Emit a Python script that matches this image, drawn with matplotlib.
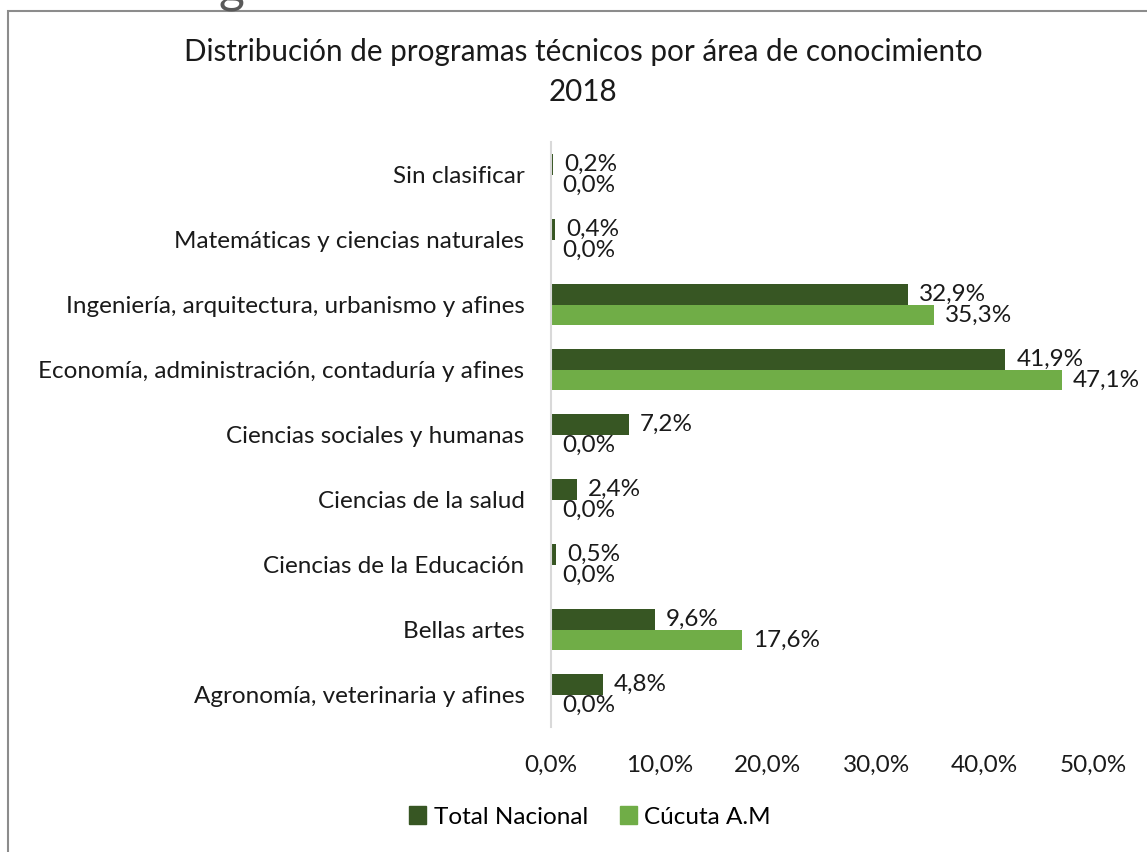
import numpy as np
import matplotlib.pyplot as plt
from matplotlib.patches import Rectangle, Patch

plt.rcParams['font.family'] = ['Lato', 'DejaVu Sans']

# categorias (de abajo hacia arriba)
categorias = ['Agronomía, veterinaria y afines',
              'Bellas artes',
              'Ciencias de la Educación',
              'Ciencias de la salud',
              'Ciencias sociales y humanas',
              'Economía, administración, contaduría y afines',
              'Ingeniería, arquitectura, urbanismo y afines',
              'Matemáticas y ciencias naturales',
              'Sin clasificar']

total_nacional = [4.8, 9.6, 0.5, 2.4, 7.2, 41.9, 32.9, 0.4, 0.2]
cucuta_am = [0.0, 17.6, 0.0, 0.0, 0.0, 47.1, 35.3, 0.0, 0.0]

series_nombres = ['Total Nacional', 'Cúcuta A.M']
ticks = [0, 10, 20, 30, 40, 50]

c_oscuro = '#375623'
c_claro = '#70ad47'
fs = 17.5

W, H = 1147, 852
fig = plt.figure(figsize=(W / 100, H / 100), dpi=100)

# marco del grafico
fig.patches.append(Rectangle((8 / W, -0.1), 1.2, 1.1 - 11 / H, transform=fig.transFigure,
                             fill=False, edgecolor='#8c8c8c', linewidth=1.5))
# resto de texto cortado arriba
fig.text(232 / W, 1.0 + 12 / H, 'g', fontsize=36, color='#595959', ha='center', va='center')

ax = fig.add_axes([551 / W, 1 - 727 / H, (1093 - 551) / W, (727 - 142) / H])

y = np.arange(len(categorias))
h = 0.32
ax.barh(y + h / 2, total_nacional, height=h, color=c_oscuro, label=series_nombres[0])
ax.barh(y - h / 2, cucuta_am, height=h, color=c_claro, label=series_nombres[1])

def fmt(v):
    return ('%.1f%%' % v).replace('.', ',')

for i in range(len(categorias)):
    ax.annotate(fmt(total_nacional[i]), (total_nacional[i], y[i] + h / 2),
                xytext=(8, 0), textcoords='offset points', va='center', ha='left',
                fontsize=fs, color='#1a1a1a')
    ax.annotate(fmt(cucuta_am[i]), (cucuta_am[i], y[i] - h / 2),
                xytext=(8, 0), textcoords='offset points', va='center', ha='left',
                fontsize=fs, color='#1a1a1a')

ax.set_xlim(0, 50)
ax.set_ylim(-0.5, len(categorias) - 0.5)
ax.set_yticks(y)
ax.set_yticklabels(categorias, fontsize=fs, color='#1a1a1a')
ax.set_xticks(ticks)
ax.set_xticklabels([fmt(t) for t in ticks], fontsize=fs, color='#1a1a1a')
ax.tick_params(axis='y', length=0, pad=19)
ax.tick_params(axis='x', length=0, pad=20)
for s in ['top', 'right', 'bottom']:
    ax.spines[s].set_visible(False)
ax.spines['left'].set_color('#d9d9d9')
ax.spines['left'].set_linewidth(1.5)

fig.text(583 / W, 1 - 52 / H, 'Distribución de programas técnicos por área de conocimiento',
         ha='center', va='center', fontsize=21.3, color='#1a1a1a')
fig.text(583 / W, 1 - 92 / H, '2018', ha='center', va='center', fontsize=21.3, color='#1a1a1a')

handles = [Patch(color=c_oscuro), Patch(color=c_claro)]
fig.legend(handles, series_nombres, loc='center', bbox_to_anchor=(590 / W, 1 - 817 / H),
           ncol=2, frameon=False, fontsize=fs, handlelength=0.7, handleheight=0.7,
           handletextpad=0.3, columnspacing=1.3)

fig.savefig('out.png', dpi=100)
